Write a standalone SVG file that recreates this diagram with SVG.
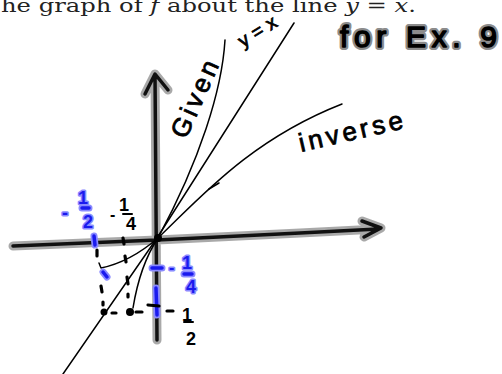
<svg xmlns="http://www.w3.org/2000/svg" width="502" height="374" viewBox="0 0 502 374">
<style>
.halo{fill:none;stroke:#9a9a9a;stroke-width:9;stroke-linecap:round;stroke-linejoin:round;opacity:.85}
.axis{fill:none;stroke:#111;stroke-width:3.5;stroke-linecap:round;stroke-linejoin:round}
.thin{fill:none;stroke:#000;stroke-width:1.5;stroke-linecap:round;stroke-linejoin:round}
.dash{fill:none;stroke:#000;stroke-width:3.2;stroke-linecap:round}
.bhalo{fill:none;stroke:#8a8aff;stroke-width:7;stroke-linecap:round}
.bcore{fill:none;stroke:#1a1aee;stroke-width:3.5;stroke-linecap:round}
.hand{font-family:"Liberation Sans",Arial,sans-serif;fill:#000;stroke:#000;stroke-width:0.8}
.bt{font-family:"Liberation Sans",Arial,sans-serif;font-weight:bold;fill:#1a1aee;stroke:#8a8aff;stroke-width:3;paint-order:stroke;stroke-linejoin:round}
.kt{font-family:"Liberation Sans",Arial,sans-serif;font-weight:bold;fill:#000}
</style>
<rect width="502" height="374" fill="#fff"/>
<text x="1" y="12" font-family="'DejaVu Serif',serif" font-size="19" fill="#222" textLength="415" lengthAdjust="spacingAndGlyphs">he graph of <tspan font-style="italic">f</tspan> about the line <tspan font-style="italic">y</tspan> = <tspan font-style="italic">x</tspan>.</text>
<g id="title">
<text x="340" y="47" font-family="'Liberation Sans',Arial,sans-serif" font-size="30" fill="none" stroke="#8c8c8c" stroke-width="6" stroke-linejoin="round" textLength="157" lengthAdjust="spacing">for Ex. 9</text>
<text x="340" y="47" font-family="'Liberation Sans',Arial,sans-serif" font-size="30" fill="#000" stroke="#000" stroke-width="1.5" stroke-linejoin="round" textLength="157" lengthAdjust="spacing">for Ex. 9</text>
</g>
<g id="axes">
<path class="halo" d="M155,75 Q156,200 157,340 M145,94 L155,74 L168,90 M13,246 L157,240 L300,233 L378,229 M362,221 L381,228 L364,237"/>
<path class="axis" d="M155,75 Q156,200 157,340 M145,94 L155,74 L168,90 M13,246 L157,240 L300,233 L378,229 M362,221 L381,228 L364,237"/>
</g>
<g id="connectors">
<path class="thin" d="M63,374 L157,238 L294,23"/>
<path class="thin" d="M225,40 C222,90 200,160 158,238 Q140,265 133,308"/>
<path class="thin" d="M158,238 C200,198 250,140 342,104"/>
<path class="thin" d="M209,189 L219,183"/>
<path class="thin" d="M158,238 Q130,262 101,268 L99,263"/>
</g>
<g id="guides">
<path class="bhalo" d="M94,236 L95,245 M103,272 L107,277 M156,288 L157,315 M152,268 L162,268"/>
<path class="bcore" d="M94,236 L95,245 M103,272 L107,277 M156,288 L157,315 M152,268 L162,268"/>
<path class="dash" d="M97,250 L97,256 M101,286 L102,292 M103,302 L103,305 M112,313 L116,313 M123,238 L124,244 M125,256 L126,262 M127,277 L128,284 M128,294 L128,297 M136,312 L142,312 M148,305 L159,306 M167,311 L173,311"/>
<circle cx="158" cy="238" r="4" fill="#000"/>
<circle cx="104" cy="312" r="3.5" fill="#000"/>
<circle cx="130" cy="312" r="4" fill="#000"/>
</g>
<g id="labels">
<text class="hand" font-size="26" transform="translate(186,140) rotate(-66)" textLength="82" lengthAdjust="spacing">Given</text>
<text class="hand" font-size="19" transform="translate(243,48) rotate(-32)" textLength="42" lengthAdjust="spacing">y=x</text>
<text class="hand" font-size="26" transform="translate(301,152) rotate(-13)" textLength="106" lengthAdjust="spacing">inverse</text>
<text class="bt" font-size="18" x="62" y="219">-</text>
<text class="bt" font-size="18" x="78" y="204">1</text>
<path class="bhalo" d="M82,208 L89,208"/><path class="bcore" d="M82,208 L89,208"/>
<text class="bt" font-size="18" x="83" y="228">2</text>
<text class="kt" font-size="16" x="110" y="220">-</text>
<text class="kt" font-size="18" x="119" y="211">1</text>
<path class="dash" style="stroke-width:2" d="M123,214 L132,214"/>
<text class="kt" font-size="18" x="126" y="230">4</text>
<text class="bt" font-size="16" x="169" y="273">-</text>
<text class="bt" font-size="18" x="182" y="269">1</text>
<path class="bhalo" d="M184,274 L192,274"/><path class="bcore" d="M184,274 L192,274"/>
<text class="bt" font-size="18" x="186" y="293">4</text>
<text class="kt" font-size="18" x="182" y="321">1</text>
<path class="dash" style="stroke-width:2" d="M184,322 L193,322"/>
<text class="kt" font-size="18" x="186" y="345">2</text>
</g>
</svg>
